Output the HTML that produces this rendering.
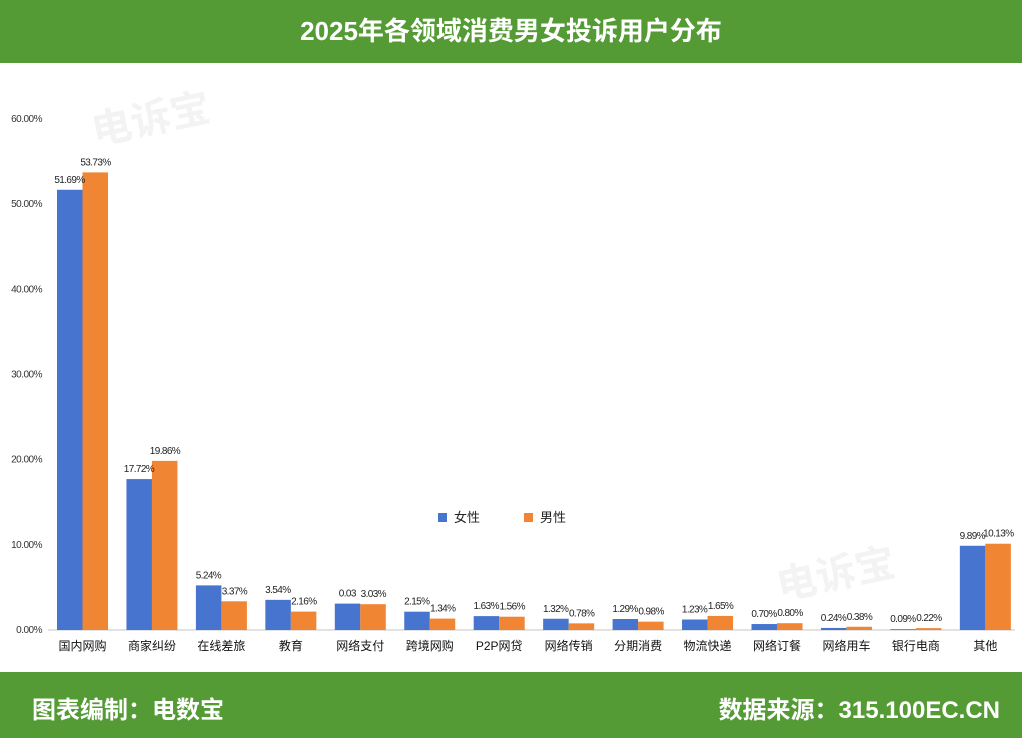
<!DOCTYPE html>
<html><head><meta charset="utf-8"><style>
body{margin:0;width:1022px;height:738px;overflow:hidden;background:#fff;font-family:"Liberation Sans","Noto Sans CJK SC",sans-serif}
.hdr{position:absolute;left:0;top:0;width:1022px;height:63px;background:#549b35;color:#fff;font-size:26px;font-weight:bold;text-align:center;line-height:63px}
.ftr{position:absolute;left:0;top:672px;width:1022px;height:66px;background:#549b35;color:#fff;font-size:24px;font-weight:bold}
</style></head><body>
<div class="hdr">2025年各领域消费男女投诉用户分布</div>
<svg id="c" width="1022" height="738" style="position:absolute;left:0;top:0"></svg>
<div class="ftr">
<span style="position:absolute;left:32px;top:18px">图表编制：电数宝</span>
<span style="position:absolute;right:22px;top:18px">数据来源：315.100EC.CN</span>
</div>
<script>
const categories=["国内网购","商家纠纷","在线差旅","教育","网络支付","跨境网购","P2P网贷","网络传销","分期消费","物流快递","网络订餐","网络用车","银行电商","其他"];
const female=[51.69,17.72,5.24,3.54,3.1,2.15,1.63,1.32,1.29,1.23,0.70,0.24,0.09,9.89];
const male=[53.73,19.86,3.37,2.16,3.03,1.34,1.56,0.78,0.98,1.65,0.80,0.38,0.22,10.13];
const femaleLabels=["51.69%","17.72%","5.24%","3.54%","0.03","2.15%","1.63%","1.32%","1.29%","1.23%","0.70%","0.24%","0.09%","9.89%"];
const maleLabels=["53.73%","19.86%","3.37%","2.16%","3.03%","1.34%","1.56%","0.78%","0.98%","1.65%","0.80%","0.38%","0.22%","10.13%"];
const yTicks=[0,10,20,30,40,50,60];
const NS="http://www.w3.org/2000/svg",svg=document.getElementById('c');
const y=v=>630-v*(511/60);
const xc=i=>82.5+i*69.45;
function el(t,a,txt){const e=document.createElementNS(NS,t);for(const k in a)e.setAttribute(k,a[k]);if(txt!=null)e.textContent=txt;svg.appendChild(e);return e;}
let w=el('text',{x:95,y:145,'font-size':40,'font-weight':'bold',fill:'#f3f3f3',transform:'rotate(-12 95 145)'},'电诉宝');

w=el('text',{x:780,y:600,'font-size':40,'font-weight':'bold',fill:'#f3f3f3',transform:'rotate(-12 780 600)'},'电诉宝');

yTicks.forEach(t=>{const e=el('text',{x:42,y:y(t)+3,'font-size':10,'text-anchor':'end',fill:'#333','letter-spacing':'-0.5'},t.toFixed(2)+'%');
});
const ax=el('line',{x1:48,x2:1015,y1:630,y2:630,stroke:'#d9d9d9','stroke-width':1.5});

categories.forEach((c,i)=>{
 const cx=xc(i);
 let b=el('rect',{x:cx-25.5,y:y(female[i]),width:25.5,height:630-y(female[i]),fill:'#4674ce'});
 
 b=el('rect',{x:cx,y:y(male[i]),width:25.5,height:630-y(male[i]),fill:'#f08533'});
 
 let t=el('text',{x:cx-13,y:y(female[i])-7,'font-size':10,'text-anchor':'middle',fill:'#222','letter-spacing':'-0.6'},femaleLabels[i]);
 
 t=el('text',{x:cx+13,y:y(male[i])-7,'font-size':10,'text-anchor':'middle',fill:'#222','letter-spacing':'-0.6'},maleLabels[i]);
 
 t=el('text',{x:cx,y:650,'font-size':12,'text-anchor':'middle',fill:'#111'},c);
 
});
let l=el('rect',{x:438,y:513,width:9,height:9,fill:'#4674ce'});
l=el('text',{x:454,y:522,'font-size':13,fill:'#222'},'女性');
l=el('rect',{x:524,y:513,width:9,height:9,fill:'#f08533'});
l=el('text',{x:540,y:522,'font-size':13,fill:'#222'},'男性');
</script>
</body></html>
